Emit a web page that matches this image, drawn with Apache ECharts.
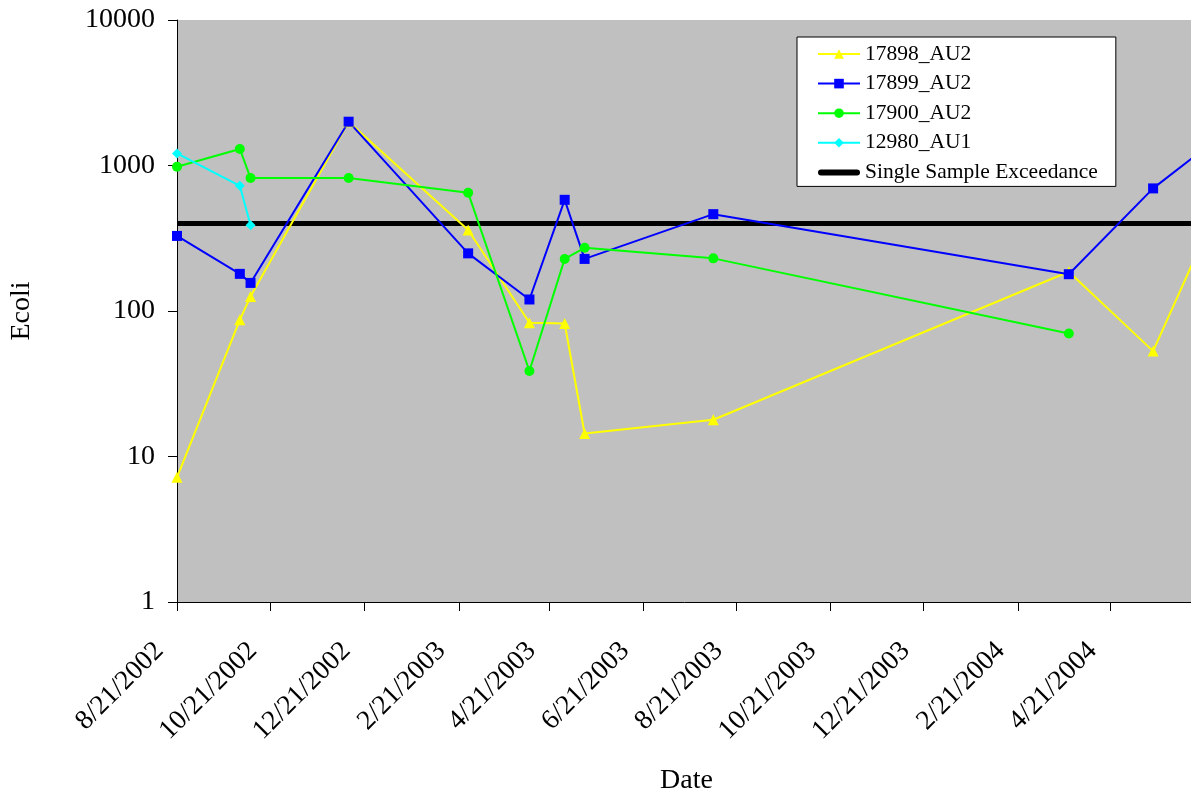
<!DOCTYPE html>
<html>
<head>
<meta charset="utf-8">
<script src="https://cdn.jsdelivr.net/npm/echarts@6/dist/echarts.min.js"></script>
<style>
html,body{margin:0;padding:0;background:#fff;overflow:hidden;}
#chart{width:1191px;height:797px;}
</style>
</head>
<body>
<div id="chart"></div>
<script>
// ---- data ----
const seriesNames = ['17898_AU2', '17899_AU2', '17900_AU2', '12980_AU1', 'Single Sample Exceedance'];

const dates17898 = ['2002-08-21','2002-10-01','2002-10-08','2002-12-11','2003-02-27','2003-04-08','2003-05-01','2003-05-14','2003-08-06','2004-03-25','2004-05-19','2004-06-16'];
const values17898 = [7.2, 87, 126, 2000, 360, 83, 82, 14.4, 17.9, 186, 53, 240];

const dates17899 = ['2002-08-21','2002-10-01','2002-10-08','2002-12-11','2003-02-27','2003-04-08','2003-05-01','2003-05-14','2003-08-06','2004-03-25','2004-05-19','2004-06-16'];
const values17899 = [328, 180, 156, 2000, 249, 120, 581, 228, 463, 179, 696, 1180];

const dates17900 = ['2002-08-21','2002-10-01','2002-10-08','2002-12-11','2003-02-27','2003-04-08','2003-05-01','2003-05-14','2003-08-06','2004-03-25'];
const values17900 = [980, 1300, 820, 820, 649, 38.7, 228, 272, 230, 70];

const dates12980 = ['2002-08-21','2002-10-01','2002-10-08'];
const values12980 = [1210, 725, 388];

const exceedanceDates = ['2002-08-21','2004-06-16'];
const exceedanceValue = 400;

const xTickDates = ['2002-08-21','2002-10-21','2002-12-21','2003-02-21','2003-04-21','2003-06-21','2003-08-21','2003-10-21','2003-12-21','2004-02-21','2004-04-21'];
const yTicks = [1, 10, 100, 1000, 10000];

// ---- helpers ----
function toTime(s){ const p = s.split('-').map(Number); return Date.UTC(p[0], p[1]-1, p[2]); }
function fmtDate(t){ const d = new Date(t); return (d.getUTCMonth()+1) + '/' + d.getUTCDate() + '/' + d.getUTCFullYear(); }
function pairs(ds, vs){ return ds.map((s,i)=>[toTime(s), vs[i]]); }

const FONT = 'Liberation Serif';
const xTicks = xTickDates.map(toTime);

const chart = echarts.init(document.getElementById('chart'), null, {renderer:'canvas'});

function dataSeries(name, color, symbol, size, data){
  return {
    name: name, type: 'line', data: data, z: 3,
    symbol: symbol, symbolSize: size, showSymbol: true,
    lineStyle: {color: color, width: 2},
    itemStyle: {color: color},
    emphasis: {disabled: true},
    animation: false
  };
}

chart.setOption({
  animation: false,
  backgroundColor: '#ffffff',
  grid: {left: 177, top: 20, width: 1019, height: 582, outerBoundsMode: 'none', containLabel: false,
         show: true, backgroundColor: '#C0C0C0', borderWidth: 0},
  legend: {
    show: true, orient: 'vertical', left: 797, top: 37,
    padding: [6, 18, 3, 20],
    backgroundColor: '#ffffff', borderColor: '#000000', borderWidth: 1,
    itemWidth: 42, itemHeight: 12, itemGap: 7.6,
    selectedMode: false,
    textStyle: {fontFamily: FONT, fontSize: 21.5, color: '#000', lineHeight: 21},
    data: [
      {name: seriesNames[0]}, {name: seriesNames[1]}, {name: seriesNames[2]}, {name: seriesNames[3]},
      {name: seriesNames[4], icon: 'path://M3,0H39A3,3 0 0 1 39,6H3A3,3 0 0 1 3,0Z'}
    ]
  },
  xAxis: {
    type: 'value',
    min: toTime(exceedanceDates[0]), max: toTime(exceedanceDates[1]),
    splitLine: {show: false},
    axisLine: {show: true, lineStyle: {color: '#000', width: 1}},
    axisTick: {show: true, customValues: xTicks, length: 9, lineStyle: {color: '#000'}},
    axisLabel: {
      customValues: xTicks, rotate: 45, margin: 27, padding: [0, 25, 0, 0],
      fontFamily: FONT, fontSize: 27.5, color: '#000',
      formatter: function(v){ return fmtDate(v); }
    },
    name: 'Date', nameLocation: 'middle', nameGap: 165,
    nameTextStyle: {fontFamily: FONT, fontSize: 28, color: '#000'}
  },
  yAxis: {
    type: 'log', logBase: 10, min: 1, max: 10000,
    splitLine: {show: false},
    axisLine: {show: true, lineStyle: {color: '#000', width: 1}},
    axisTick: {show: true, length: 9, lineStyle: {color: '#000'}},
    axisLabel: {
      margin: 22, fontFamily: FONT, fontSize: 28, color: '#000',
      formatter: function(v){ return String(Math.round(v)); }
    },
    name: 'Ecoli', nameLocation: 'middle', nameRotate: 90, nameGap: 141,
    nameTextStyle: {fontFamily: FONT, fontSize: 28, color: '#000'}
  },
  series: [
    dataSeries(seriesNames[0], '#FFFF00', 'triangle', 11, pairs(dates17898, values17898)),
    dataSeries(seriesNames[1], '#0000FF', 'rect', 10, pairs(dates17899, values17899)),
    dataSeries(seriesNames[2], '#00FF00', 'circle', 10, pairs(dates17900, values17900)),
    dataSeries(seriesNames[3], '#00FFFF', 'diamond', 10, pairs(dates12980, values12980)),
    {
      name: seriesNames[4], type: 'line', z: 2,
      data: exceedanceDates.map(s => [toTime(s), exceedanceValue]),
      symbol: 'none', showSymbol: false,
      lineStyle: {color: '#000', width: 5},
      itemStyle: {color: '#000'},
      emphasis: {disabled: true},
      animation: false
    }
  ]
});
</script>
</body>
</html>
